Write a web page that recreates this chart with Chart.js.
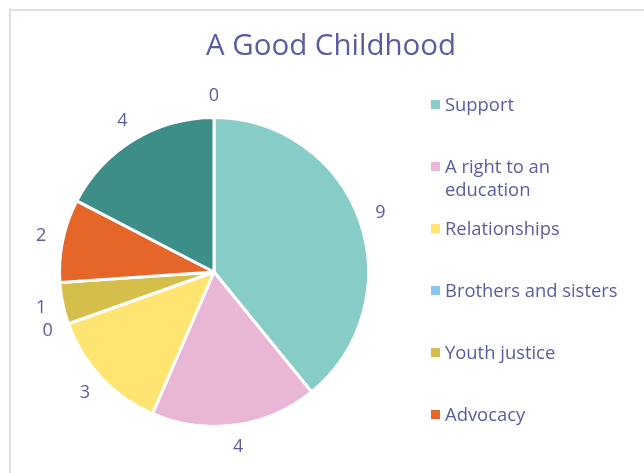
<!DOCTYPE html>
<html>
<head>
<meta charset="utf-8">
<script src="https://cdn.jsdelivr.net/npm/chart.js@4.4.1/dist/chart.umd.min.js"></script>
<style>
  html, body { margin: 0; padding: 0; background: #fff; overflow: hidden; }
  #wrap { position: relative; width: 644px; height: 473px; font-family: 'Open Sans', sans-serif; color: #5a5ca6; }
  #frame { position: absolute; left: 9px; top: 9px; width: 700px; height: 520px; border: 2px solid #dddcf0; box-sizing: border-box; }
  #chart { position: absolute; left: 0; top: 0; }
  #title { position: absolute; left: 0; width: 662px; top: 24px; text-align: center; font-size: 29.5px; line-height: 40px; }
  #legend { position: absolute; left: 430px; top: 92px; margin: 0; padding: 0; list-style: none; }
  #legend li { position: relative; height: 62px; padding-left: 15px; width: 182px; font-size: 18.4px; line-height: 23px; }
  #legend li span { position: absolute; left: 1px; top: 8px; width: 9px; height: 9px; }
</style>
</head>
<body>
<div id="wrap">
  <div id="frame"></div>
  <canvas id="chart" width="644" height="473"></canvas>
  <div id="title">A Good Childhood</div>
  <ul id="legend"></ul>
</div>
<script>
const labels = ['Support', 'A right to an education', 'Relationships', 'Brothers and sisters', 'Youth justice', 'Advocacy', 'Health', 'Other']
const values = [9, 4, 3, 0, 1, 2, 4, 0]
const colors = ['#88ccc8', '#eab6d5', '#ffe471', '#8ac7ef', '#d5bf4a', '#e66629', '#3d8d88', '#9a7fb8']
const LEGEND_SHOWN = 6
const TEXT_COLOR = '#5a5ca6'

// value labels just outside each slice
const outerLabels = {
  id: 'outerLabels',
  afterDatasetsDraw(chart) {
    const ctx = chart.ctx
    const meta = chart.getDatasetMeta(0)
    ctx.save()
    ctx.font = '18px "Open Sans"'
    ctx.fillStyle = TEXT_COLOR
    ctx.textAlign = 'center'
    ctx.textBaseline = 'middle'
    meta.data.forEach((arc, i) => {
      const mid = (arc.startAngle + arc.endAngle) / 2
      const r = arc.outerRadius + 22
      ctx.fillText(String(values[i]), arc.x + Math.cos(mid) * r, arc.y + Math.sin(mid) * r)
    })
    ctx.restore()
  }
}

new Chart(document.getElementById('chart'), {
  type: 'pie',
  data: {
    labels: labels,
    datasets: [{
      data: values,
      backgroundColor: colors,
      borderColor: '#ffffff',
      borderWidth: 3
    }]
  },
  options: {
    responsive: false,
    animation: false,
    layout: {
      padding: { left: 58, right: 274, top: 116, bottom: 45 }
    },
    plugins: {
      legend: { display: false },
      tooltip: { enabled: false },
      title: { display: false }
    }
  },
  plugins: [outerLabels]
})

const legendEl = document.getElementById('legend')
labels.slice(0, LEGEND_SHOWN).forEach((label, i) => {
  const li = document.createElement('li')
  const box = document.createElement('span')
  box.style.background = colors[i]
  li.appendChild(box)
  li.appendChild(document.createTextNode(label))
  legendEl.appendChild(li)
})
</script>
</body>
</html>
